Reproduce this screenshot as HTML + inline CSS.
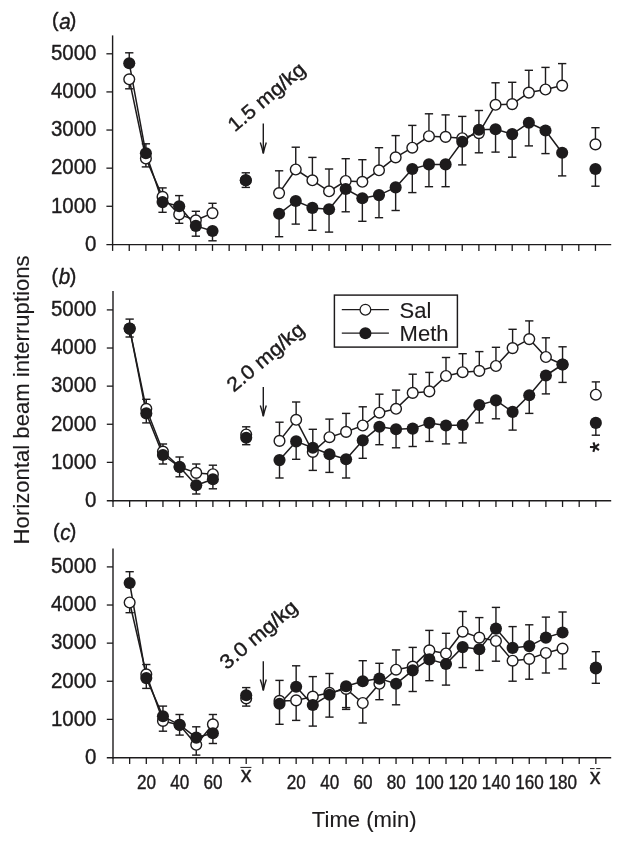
<!DOCTYPE html>
<html><head><meta charset="utf-8"><title>Figure</title>
<style>html,body{margin:0;padding:0;background:#fff}svg{display:block;will-change:transform;opacity:0.999}text{font-family:"Liberation Sans",sans-serif;fill:#1d1b1c;stroke:#1d1b1c;stroke-width:0.4px;stroke-linejoin:round}text.t{stroke-width:0.12px}</style>
</head><body>
<svg width="624" height="841" viewBox="0 0 624 841">
<rect width="624" height="841" fill="#fff"/>
<g>
<line x1="112.60" y1="35.40" x2="112.60" y2="245.30" stroke="#1d1b1c" stroke-width="1.40" />
<line x1="106.40" y1="244.65" x2="611.20" y2="244.65" stroke="#1d1b1c" stroke-width="1.40" />
<line x1="106.40" y1="206.28" x2="112.60" y2="206.28" stroke="#1d1b1c" stroke-width="1.30" />
<text transform="translate(96.4,212.58) scale(0.93,1)" font-size="22" text-anchor="end">1000</text>
<line x1="106.40" y1="168.16" x2="112.60" y2="168.16" stroke="#1d1b1c" stroke-width="1.30" />
<text transform="translate(96.4,174.46) scale(0.93,1)" font-size="22" text-anchor="end">2000</text>
<line x1="106.40" y1="130.04" x2="112.60" y2="130.04" stroke="#1d1b1c" stroke-width="1.30" />
<text transform="translate(96.4,136.34) scale(0.93,1)" font-size="22" text-anchor="end">3000</text>
<line x1="106.40" y1="91.92" x2="112.60" y2="91.92" stroke="#1d1b1c" stroke-width="1.30" />
<text transform="translate(96.4,98.22) scale(0.93,1)" font-size="22" text-anchor="end">4000</text>
<line x1="106.40" y1="53.80" x2="112.60" y2="53.80" stroke="#1d1b1c" stroke-width="1.30" />
<text transform="translate(96.4,60.10) scale(0.93,1)" font-size="22" text-anchor="end">5000</text>
<text transform="translate(96.4,250.70) scale(0.93,1)" font-size="22" text-anchor="end">0</text>
<line x1="112.60" y1="244.40" x2="112.60" y2="250.90" stroke="#1d1b1c" stroke-width="1.30" />
<line x1="129.25" y1="244.40" x2="129.25" y2="250.90" stroke="#1d1b1c" stroke-width="1.30" />
<line x1="145.90" y1="244.40" x2="145.90" y2="250.90" stroke="#1d1b1c" stroke-width="1.30" />
<line x1="162.55" y1="244.40" x2="162.55" y2="250.90" stroke="#1d1b1c" stroke-width="1.30" />
<line x1="179.20" y1="244.40" x2="179.20" y2="250.90" stroke="#1d1b1c" stroke-width="1.30" />
<line x1="195.85" y1="244.40" x2="195.85" y2="250.90" stroke="#1d1b1c" stroke-width="1.30" />
<line x1="212.50" y1="244.40" x2="212.50" y2="250.90" stroke="#1d1b1c" stroke-width="1.30" />
<line x1="229.15" y1="244.40" x2="229.15" y2="250.90" stroke="#1d1b1c" stroke-width="1.30" />
<line x1="245.80" y1="244.40" x2="245.80" y2="250.90" stroke="#1d1b1c" stroke-width="1.30" />
<line x1="262.45" y1="244.40" x2="262.45" y2="250.90" stroke="#1d1b1c" stroke-width="1.30" />
<line x1="279.10" y1="244.40" x2="279.10" y2="250.90" stroke="#1d1b1c" stroke-width="1.30" />
<line x1="295.75" y1="244.40" x2="295.75" y2="250.90" stroke="#1d1b1c" stroke-width="1.30" />
<line x1="312.40" y1="244.40" x2="312.40" y2="250.90" stroke="#1d1b1c" stroke-width="1.30" />
<line x1="329.05" y1="244.40" x2="329.05" y2="250.90" stroke="#1d1b1c" stroke-width="1.30" />
<line x1="345.70" y1="244.40" x2="345.70" y2="250.90" stroke="#1d1b1c" stroke-width="1.30" />
<line x1="362.35" y1="244.40" x2="362.35" y2="250.90" stroke="#1d1b1c" stroke-width="1.30" />
<line x1="379.00" y1="244.40" x2="379.00" y2="250.90" stroke="#1d1b1c" stroke-width="1.30" />
<line x1="395.65" y1="244.40" x2="395.65" y2="250.90" stroke="#1d1b1c" stroke-width="1.30" />
<line x1="412.30" y1="244.40" x2="412.30" y2="250.90" stroke="#1d1b1c" stroke-width="1.30" />
<line x1="428.95" y1="244.40" x2="428.95" y2="250.90" stroke="#1d1b1c" stroke-width="1.30" />
<line x1="445.60" y1="244.40" x2="445.60" y2="250.90" stroke="#1d1b1c" stroke-width="1.30" />
<line x1="462.25" y1="244.40" x2="462.25" y2="250.90" stroke="#1d1b1c" stroke-width="1.30" />
<line x1="478.90" y1="244.40" x2="478.90" y2="250.90" stroke="#1d1b1c" stroke-width="1.30" />
<line x1="495.55" y1="244.40" x2="495.55" y2="250.90" stroke="#1d1b1c" stroke-width="1.30" />
<line x1="512.20" y1="244.40" x2="512.20" y2="250.90" stroke="#1d1b1c" stroke-width="1.30" />
<line x1="528.85" y1="244.40" x2="528.85" y2="250.90" stroke="#1d1b1c" stroke-width="1.30" />
<line x1="545.50" y1="244.40" x2="545.50" y2="250.90" stroke="#1d1b1c" stroke-width="1.30" />
<line x1="562.15" y1="244.40" x2="562.15" y2="250.90" stroke="#1d1b1c" stroke-width="1.30" />
<line x1="578.80" y1="244.40" x2="578.80" y2="250.90" stroke="#1d1b1c" stroke-width="1.30" />
<line x1="595.45" y1="244.40" x2="595.45" y2="250.90" stroke="#1d1b1c" stroke-width="1.30" />
<text x="52.00" y="26.70" font-size="19.7">(</text>
<text transform="translate(64.90,28.50) scale(0.94,1)" font-size="22" font-style="italic" text-anchor="middle">a</text>
<text x="69.70" y="26.70" font-size="19.7">)</text>
<polyline points="129.25,63.20 145.90,153.30 162.55,202.10 179.20,206.20 195.85,225.90 212.50,231.00" fill="none" stroke="#1d1b1c" stroke-width="1.50" stroke-linejoin="round"/>
<polyline points="279.10,213.80 295.75,201.00 312.40,207.90 329.05,209.20 345.70,189.00 362.35,198.20 379.00,195.10 395.65,187.40 412.30,169.00 428.95,164.40 445.60,164.40 462.25,141.80 478.90,129.70 495.55,129.20 512.20,134.10 528.85,122.80 545.50,130.50 562.15,152.80" fill="none" stroke="#1d1b1c" stroke-width="1.50" stroke-linejoin="round"/>
<polyline points="129.25,79.30 145.90,158.50 162.55,196.90 179.20,214.40 195.85,220.30 212.50,213.10" fill="none" stroke="#1d1b1c" stroke-width="1.50" stroke-linejoin="round"/>
<polyline points="279.10,193.10 295.75,169.50 312.40,180.30 329.05,191.30 345.70,181.00 362.35,181.80 379.00,170.30 395.65,157.40 412.30,147.70 428.95,136.20 445.60,136.90 462.25,138.20 478.90,133.10 495.55,104.80 512.20,104.10 528.85,92.60 545.50,89.50 562.15,85.60" fill="none" stroke="#1d1b1c" stroke-width="1.50" stroke-linejoin="round"/>
<line x1="129.25" y1="79.30" x2="129.25" y2="88.80" stroke="#1d1b1c" stroke-width="1.42" />
<line x1="125.10" y1="88.80" x2="133.40" y2="88.80" stroke="#1d1b1c" stroke-width="1.42" />
<line x1="145.90" y1="158.50" x2="145.90" y2="166.90" stroke="#1d1b1c" stroke-width="1.42" />
<line x1="141.75" y1="166.90" x2="150.05" y2="166.90" stroke="#1d1b1c" stroke-width="1.42" />
<line x1="162.55" y1="196.90" x2="162.55" y2="187.90" stroke="#1d1b1c" stroke-width="1.42" />
<line x1="158.40" y1="187.90" x2="166.70" y2="187.90" stroke="#1d1b1c" stroke-width="1.42" />
<line x1="179.20" y1="214.40" x2="179.20" y2="223.30" stroke="#1d1b1c" stroke-width="1.42" />
<line x1="175.05" y1="223.30" x2="183.35" y2="223.30" stroke="#1d1b1c" stroke-width="1.42" />
<line x1="195.85" y1="220.30" x2="195.85" y2="211.30" stroke="#1d1b1c" stroke-width="1.42" />
<line x1="191.70" y1="211.30" x2="200.00" y2="211.30" stroke="#1d1b1c" stroke-width="1.42" />
<line x1="212.50" y1="213.10" x2="212.50" y2="203.30" stroke="#1d1b1c" stroke-width="1.42" />
<line x1="208.35" y1="203.30" x2="216.65" y2="203.30" stroke="#1d1b1c" stroke-width="1.42" />
<line x1="245.80" y1="180.30" x2="245.80" y2="172.80" stroke="#1d1b1c" stroke-width="1.42" />
<line x1="241.65" y1="172.80" x2="249.95" y2="172.80" stroke="#1d1b1c" stroke-width="1.42" />
<line x1="279.10" y1="193.10" x2="279.10" y2="170.80" stroke="#1d1b1c" stroke-width="1.42" />
<line x1="274.95" y1="170.80" x2="283.25" y2="170.80" stroke="#1d1b1c" stroke-width="1.42" />
<line x1="295.75" y1="169.50" x2="295.75" y2="147.20" stroke="#1d1b1c" stroke-width="1.42" />
<line x1="291.60" y1="147.20" x2="299.90" y2="147.20" stroke="#1d1b1c" stroke-width="1.42" />
<line x1="312.40" y1="180.30" x2="312.40" y2="157.40" stroke="#1d1b1c" stroke-width="1.42" />
<line x1="308.25" y1="157.40" x2="316.55" y2="157.40" stroke="#1d1b1c" stroke-width="1.42" />
<line x1="329.05" y1="191.30" x2="329.05" y2="169.00" stroke="#1d1b1c" stroke-width="1.42" />
<line x1="324.90" y1="169.00" x2="333.20" y2="169.00" stroke="#1d1b1c" stroke-width="1.42" />
<line x1="345.70" y1="181.00" x2="345.70" y2="158.70" stroke="#1d1b1c" stroke-width="1.42" />
<line x1="341.55" y1="158.70" x2="349.85" y2="158.70" stroke="#1d1b1c" stroke-width="1.42" />
<line x1="362.35" y1="181.80" x2="362.35" y2="159.70" stroke="#1d1b1c" stroke-width="1.42" />
<line x1="358.20" y1="159.70" x2="366.50" y2="159.70" stroke="#1d1b1c" stroke-width="1.42" />
<line x1="379.00" y1="170.30" x2="379.00" y2="147.70" stroke="#1d1b1c" stroke-width="1.42" />
<line x1="374.85" y1="147.70" x2="383.15" y2="147.70" stroke="#1d1b1c" stroke-width="1.42" />
<line x1="395.65" y1="157.40" x2="395.65" y2="135.60" stroke="#1d1b1c" stroke-width="1.42" />
<line x1="391.50" y1="135.60" x2="399.80" y2="135.60" stroke="#1d1b1c" stroke-width="1.42" />
<line x1="412.30" y1="147.70" x2="412.30" y2="125.40" stroke="#1d1b1c" stroke-width="1.42" />
<line x1="408.15" y1="125.40" x2="416.45" y2="125.40" stroke="#1d1b1c" stroke-width="1.42" />
<line x1="428.95" y1="136.20" x2="428.95" y2="113.80" stroke="#1d1b1c" stroke-width="1.42" />
<line x1="424.80" y1="113.80" x2="433.10" y2="113.80" stroke="#1d1b1c" stroke-width="1.42" />
<line x1="445.60" y1="136.90" x2="445.60" y2="114.90" stroke="#1d1b1c" stroke-width="1.42" />
<line x1="441.45" y1="114.90" x2="449.75" y2="114.90" stroke="#1d1b1c" stroke-width="1.42" />
<line x1="462.25" y1="138.20" x2="462.25" y2="116.40" stroke="#1d1b1c" stroke-width="1.42" />
<line x1="458.10" y1="116.40" x2="466.40" y2="116.40" stroke="#1d1b1c" stroke-width="1.42" />
<line x1="478.90" y1="133.10" x2="478.90" y2="110.50" stroke="#1d1b1c" stroke-width="1.42" />
<line x1="474.75" y1="110.50" x2="483.05" y2="110.50" stroke="#1d1b1c" stroke-width="1.42" />
<line x1="495.55" y1="104.80" x2="495.55" y2="82.80" stroke="#1d1b1c" stroke-width="1.42" />
<line x1="491.40" y1="82.80" x2="499.70" y2="82.80" stroke="#1d1b1c" stroke-width="1.42" />
<line x1="512.20" y1="104.10" x2="512.20" y2="82.30" stroke="#1d1b1c" stroke-width="1.42" />
<line x1="508.05" y1="82.30" x2="516.35" y2="82.30" stroke="#1d1b1c" stroke-width="1.42" />
<line x1="528.85" y1="92.60" x2="528.85" y2="70.30" stroke="#1d1b1c" stroke-width="1.42" />
<line x1="524.70" y1="70.30" x2="533.00" y2="70.30" stroke="#1d1b1c" stroke-width="1.42" />
<line x1="545.50" y1="89.50" x2="545.50" y2="67.40" stroke="#1d1b1c" stroke-width="1.42" />
<line x1="541.35" y1="67.40" x2="549.65" y2="67.40" stroke="#1d1b1c" stroke-width="1.42" />
<line x1="562.15" y1="85.60" x2="562.15" y2="63.60" stroke="#1d1b1c" stroke-width="1.42" />
<line x1="558.00" y1="63.60" x2="566.30" y2="63.60" stroke="#1d1b1c" stroke-width="1.42" />
<line x1="595.45" y1="144.40" x2="595.45" y2="127.70" stroke="#1d1b1c" stroke-width="1.42" />
<line x1="591.30" y1="127.70" x2="599.60" y2="127.70" stroke="#1d1b1c" stroke-width="1.42" />
<line x1="129.25" y1="63.20" x2="129.25" y2="52.80" stroke="#1d1b1c" stroke-width="1.42" />
<line x1="125.10" y1="52.80" x2="133.40" y2="52.80" stroke="#1d1b1c" stroke-width="1.42" />
<line x1="145.90" y1="153.30" x2="145.90" y2="143.80" stroke="#1d1b1c" stroke-width="1.42" />
<line x1="141.75" y1="143.80" x2="150.05" y2="143.80" stroke="#1d1b1c" stroke-width="1.42" />
<line x1="162.55" y1="202.10" x2="162.55" y2="212.30" stroke="#1d1b1c" stroke-width="1.42" />
<line x1="158.40" y1="212.30" x2="166.70" y2="212.30" stroke="#1d1b1c" stroke-width="1.42" />
<line x1="179.20" y1="206.20" x2="179.20" y2="195.60" stroke="#1d1b1c" stroke-width="1.42" />
<line x1="175.05" y1="195.60" x2="183.35" y2="195.60" stroke="#1d1b1c" stroke-width="1.42" />
<line x1="195.85" y1="225.90" x2="195.85" y2="236.20" stroke="#1d1b1c" stroke-width="1.42" />
<line x1="191.70" y1="236.20" x2="200.00" y2="236.20" stroke="#1d1b1c" stroke-width="1.42" />
<line x1="212.50" y1="231.00" x2="212.50" y2="240.80" stroke="#1d1b1c" stroke-width="1.42" />
<line x1="208.35" y1="240.80" x2="216.65" y2="240.80" stroke="#1d1b1c" stroke-width="1.42" />
<line x1="245.80" y1="180.30" x2="245.80" y2="187.40" stroke="#1d1b1c" stroke-width="1.42" />
<line x1="241.65" y1="187.40" x2="249.95" y2="187.40" stroke="#1d1b1c" stroke-width="1.42" />
<line x1="279.10" y1="213.80" x2="279.10" y2="236.70" stroke="#1d1b1c" stroke-width="1.42" />
<line x1="274.95" y1="236.70" x2="283.25" y2="236.70" stroke="#1d1b1c" stroke-width="1.42" />
<line x1="295.75" y1="201.00" x2="295.75" y2="224.10" stroke="#1d1b1c" stroke-width="1.42" />
<line x1="291.60" y1="224.10" x2="299.90" y2="224.10" stroke="#1d1b1c" stroke-width="1.42" />
<line x1="312.40" y1="207.90" x2="312.40" y2="230.30" stroke="#1d1b1c" stroke-width="1.42" />
<line x1="308.25" y1="230.30" x2="316.55" y2="230.30" stroke="#1d1b1c" stroke-width="1.42" />
<line x1="329.05" y1="209.20" x2="329.05" y2="232.10" stroke="#1d1b1c" stroke-width="1.42" />
<line x1="324.90" y1="232.10" x2="333.20" y2="232.10" stroke="#1d1b1c" stroke-width="1.42" />
<line x1="345.70" y1="189.00" x2="345.70" y2="211.80" stroke="#1d1b1c" stroke-width="1.42" />
<line x1="341.55" y1="211.80" x2="349.85" y2="211.80" stroke="#1d1b1c" stroke-width="1.42" />
<line x1="362.35" y1="198.20" x2="362.35" y2="221.30" stroke="#1d1b1c" stroke-width="1.42" />
<line x1="358.20" y1="221.30" x2="366.50" y2="221.30" stroke="#1d1b1c" stroke-width="1.42" />
<line x1="379.00" y1="195.10" x2="379.00" y2="217.70" stroke="#1d1b1c" stroke-width="1.42" />
<line x1="374.85" y1="217.70" x2="383.15" y2="217.70" stroke="#1d1b1c" stroke-width="1.42" />
<line x1="395.65" y1="187.40" x2="395.65" y2="210.50" stroke="#1d1b1c" stroke-width="1.42" />
<line x1="391.50" y1="210.50" x2="399.80" y2="210.50" stroke="#1d1b1c" stroke-width="1.42" />
<line x1="412.30" y1="169.00" x2="412.30" y2="192.60" stroke="#1d1b1c" stroke-width="1.42" />
<line x1="408.15" y1="192.60" x2="416.45" y2="192.60" stroke="#1d1b1c" stroke-width="1.42" />
<line x1="428.95" y1="164.40" x2="428.95" y2="186.70" stroke="#1d1b1c" stroke-width="1.42" />
<line x1="424.80" y1="186.70" x2="433.10" y2="186.70" stroke="#1d1b1c" stroke-width="1.42" />
<line x1="445.60" y1="164.40" x2="445.60" y2="186.70" stroke="#1d1b1c" stroke-width="1.42" />
<line x1="441.45" y1="186.70" x2="449.75" y2="186.70" stroke="#1d1b1c" stroke-width="1.42" />
<line x1="462.25" y1="141.80" x2="462.25" y2="164.90" stroke="#1d1b1c" stroke-width="1.42" />
<line x1="458.10" y1="164.90" x2="466.40" y2="164.90" stroke="#1d1b1c" stroke-width="1.42" />
<line x1="478.90" y1="129.70" x2="478.90" y2="152.80" stroke="#1d1b1c" stroke-width="1.42" />
<line x1="474.75" y1="152.80" x2="483.05" y2="152.80" stroke="#1d1b1c" stroke-width="1.42" />
<line x1="495.55" y1="129.20" x2="495.55" y2="152.10" stroke="#1d1b1c" stroke-width="1.42" />
<line x1="491.40" y1="152.10" x2="499.70" y2="152.10" stroke="#1d1b1c" stroke-width="1.42" />
<line x1="512.20" y1="134.10" x2="512.20" y2="157.20" stroke="#1d1b1c" stroke-width="1.42" />
<line x1="508.05" y1="157.20" x2="516.35" y2="157.20" stroke="#1d1b1c" stroke-width="1.42" />
<line x1="528.85" y1="122.80" x2="528.85" y2="145.90" stroke="#1d1b1c" stroke-width="1.42" />
<line x1="524.70" y1="145.90" x2="533.00" y2="145.90" stroke="#1d1b1c" stroke-width="1.42" />
<line x1="545.50" y1="130.50" x2="545.50" y2="153.60" stroke="#1d1b1c" stroke-width="1.42" />
<line x1="541.35" y1="153.60" x2="549.65" y2="153.60" stroke="#1d1b1c" stroke-width="1.42" />
<line x1="562.15" y1="152.80" x2="562.15" y2="175.90" stroke="#1d1b1c" stroke-width="1.42" />
<line x1="558.00" y1="175.90" x2="566.30" y2="175.90" stroke="#1d1b1c" stroke-width="1.42" />
<line x1="595.45" y1="169.00" x2="595.45" y2="186.20" stroke="#1d1b1c" stroke-width="1.42" />
<line x1="591.30" y1="186.20" x2="599.60" y2="186.20" stroke="#1d1b1c" stroke-width="1.42" />
<circle cx="129.25" cy="79.30" r="5.35" fill="#fff" stroke="#1d1b1c" stroke-width="1.4"/>
<circle cx="145.90" cy="158.50" r="5.35" fill="#fff" stroke="#1d1b1c" stroke-width="1.4"/>
<circle cx="162.55" cy="196.90" r="5.35" fill="#fff" stroke="#1d1b1c" stroke-width="1.4"/>
<circle cx="179.20" cy="214.40" r="5.35" fill="#fff" stroke="#1d1b1c" stroke-width="1.4"/>
<circle cx="195.85" cy="220.30" r="5.35" fill="#fff" stroke="#1d1b1c" stroke-width="1.4"/>
<circle cx="212.50" cy="213.10" r="5.35" fill="#fff" stroke="#1d1b1c" stroke-width="1.4"/>
<circle cx="245.80" cy="180.30" r="5.35" fill="#fff" stroke="#1d1b1c" stroke-width="1.4"/>
<circle cx="279.10" cy="193.10" r="5.35" fill="#fff" stroke="#1d1b1c" stroke-width="1.4"/>
<circle cx="295.75" cy="169.50" r="5.35" fill="#fff" stroke="#1d1b1c" stroke-width="1.4"/>
<circle cx="312.40" cy="180.30" r="5.35" fill="#fff" stroke="#1d1b1c" stroke-width="1.4"/>
<circle cx="329.05" cy="191.30" r="5.35" fill="#fff" stroke="#1d1b1c" stroke-width="1.4"/>
<circle cx="345.70" cy="181.00" r="5.35" fill="#fff" stroke="#1d1b1c" stroke-width="1.4"/>
<circle cx="362.35" cy="181.80" r="5.35" fill="#fff" stroke="#1d1b1c" stroke-width="1.4"/>
<circle cx="379.00" cy="170.30" r="5.35" fill="#fff" stroke="#1d1b1c" stroke-width="1.4"/>
<circle cx="395.65" cy="157.40" r="5.35" fill="#fff" stroke="#1d1b1c" stroke-width="1.4"/>
<circle cx="412.30" cy="147.70" r="5.35" fill="#fff" stroke="#1d1b1c" stroke-width="1.4"/>
<circle cx="428.95" cy="136.20" r="5.35" fill="#fff" stroke="#1d1b1c" stroke-width="1.4"/>
<circle cx="445.60" cy="136.90" r="5.35" fill="#fff" stroke="#1d1b1c" stroke-width="1.4"/>
<circle cx="462.25" cy="138.20" r="5.35" fill="#fff" stroke="#1d1b1c" stroke-width="1.4"/>
<circle cx="478.90" cy="133.10" r="5.35" fill="#fff" stroke="#1d1b1c" stroke-width="1.4"/>
<circle cx="495.55" cy="104.80" r="5.35" fill="#fff" stroke="#1d1b1c" stroke-width="1.4"/>
<circle cx="512.20" cy="104.10" r="5.35" fill="#fff" stroke="#1d1b1c" stroke-width="1.4"/>
<circle cx="528.85" cy="92.60" r="5.35" fill="#fff" stroke="#1d1b1c" stroke-width="1.4"/>
<circle cx="545.50" cy="89.50" r="5.35" fill="#fff" stroke="#1d1b1c" stroke-width="1.4"/>
<circle cx="562.15" cy="85.60" r="5.35" fill="#fff" stroke="#1d1b1c" stroke-width="1.4"/>
<circle cx="595.45" cy="144.40" r="5.35" fill="#fff" stroke="#1d1b1c" stroke-width="1.4"/>
<circle cx="129.25" cy="63.20" r="6.05" fill="#1d1b1c"/>
<circle cx="145.90" cy="153.30" r="6.05" fill="#1d1b1c"/>
<circle cx="162.55" cy="202.10" r="6.05" fill="#1d1b1c"/>
<circle cx="179.20" cy="206.20" r="6.05" fill="#1d1b1c"/>
<circle cx="195.85" cy="225.90" r="6.05" fill="#1d1b1c"/>
<circle cx="212.50" cy="231.00" r="6.05" fill="#1d1b1c"/>
<circle cx="245.80" cy="180.30" r="6.05" fill="#1d1b1c"/>
<circle cx="279.10" cy="213.80" r="6.05" fill="#1d1b1c"/>
<circle cx="295.75" cy="201.00" r="6.05" fill="#1d1b1c"/>
<circle cx="312.40" cy="207.90" r="6.05" fill="#1d1b1c"/>
<circle cx="329.05" cy="209.20" r="6.05" fill="#1d1b1c"/>
<circle cx="345.70" cy="189.00" r="6.05" fill="#1d1b1c"/>
<circle cx="362.35" cy="198.20" r="6.05" fill="#1d1b1c"/>
<circle cx="379.00" cy="195.10" r="6.05" fill="#1d1b1c"/>
<circle cx="395.65" cy="187.40" r="6.05" fill="#1d1b1c"/>
<circle cx="412.30" cy="169.00" r="6.05" fill="#1d1b1c"/>
<circle cx="428.95" cy="164.40" r="6.05" fill="#1d1b1c"/>
<circle cx="445.60" cy="164.40" r="6.05" fill="#1d1b1c"/>
<circle cx="462.25" cy="141.80" r="6.05" fill="#1d1b1c"/>
<circle cx="478.90" cy="129.70" r="6.05" fill="#1d1b1c"/>
<circle cx="495.55" cy="129.20" r="6.05" fill="#1d1b1c"/>
<circle cx="512.20" cy="134.10" r="6.05" fill="#1d1b1c"/>
<circle cx="528.85" cy="122.80" r="6.05" fill="#1d1b1c"/>
<circle cx="545.50" cy="130.50" r="6.05" fill="#1d1b1c"/>
<circle cx="562.15" cy="152.80" r="6.05" fill="#1d1b1c"/>
<circle cx="595.45" cy="169.00" r="6.05" fill="#1d1b1c"/>
<line x1="263.30" y1="123.40" x2="263.30" y2="153.10" stroke="#1d1b1c" stroke-width="1.40" />
<path d="M260.30,142.60 Q262.40,148.60 263.30,153.60 Q264.20,148.60 266.30,142.60" fill="none" stroke="#1d1b1c" stroke-width="1.4" stroke-linejoin="miter"/>
<text transform="translate(234.80,132.60) rotate(-40.2)" font-size="20" textLength="94.5" lengthAdjust="spacingAndGlyphs">1.5 mg/kg</text>
</g>
<g>
<line x1="113.00" y1="291.00" x2="113.00" y2="501.40" stroke="#1d1b1c" stroke-width="1.40" />
<line x1="106.80" y1="500.75" x2="611.20" y2="500.75" stroke="#1d1b1c" stroke-width="1.40" />
<line x1="106.80" y1="462.38" x2="113.00" y2="462.38" stroke="#1d1b1c" stroke-width="1.30" />
<text transform="translate(96.4,468.68) scale(0.93,1)" font-size="22" text-anchor="end">1000</text>
<line x1="106.80" y1="424.26" x2="113.00" y2="424.26" stroke="#1d1b1c" stroke-width="1.30" />
<text transform="translate(96.4,430.56) scale(0.93,1)" font-size="22" text-anchor="end">2000</text>
<line x1="106.80" y1="386.14" x2="113.00" y2="386.14" stroke="#1d1b1c" stroke-width="1.30" />
<text transform="translate(96.4,392.44) scale(0.93,1)" font-size="22" text-anchor="end">3000</text>
<line x1="106.80" y1="348.02" x2="113.00" y2="348.02" stroke="#1d1b1c" stroke-width="1.30" />
<text transform="translate(96.4,354.32) scale(0.93,1)" font-size="22" text-anchor="end">4000</text>
<line x1="106.80" y1="309.90" x2="113.00" y2="309.90" stroke="#1d1b1c" stroke-width="1.30" />
<text transform="translate(96.4,316.20) scale(0.93,1)" font-size="22" text-anchor="end">5000</text>
<text transform="translate(96.4,506.80) scale(0.93,1)" font-size="22" text-anchor="end">0</text>
<line x1="113.00" y1="500.50" x2="113.00" y2="507.00" stroke="#1d1b1c" stroke-width="1.30" />
<line x1="129.65" y1="500.50" x2="129.65" y2="507.00" stroke="#1d1b1c" stroke-width="1.30" />
<line x1="146.30" y1="500.50" x2="146.30" y2="507.00" stroke="#1d1b1c" stroke-width="1.30" />
<line x1="162.95" y1="500.50" x2="162.95" y2="507.00" stroke="#1d1b1c" stroke-width="1.30" />
<line x1="179.60" y1="500.50" x2="179.60" y2="507.00" stroke="#1d1b1c" stroke-width="1.30" />
<line x1="196.25" y1="500.50" x2="196.25" y2="507.00" stroke="#1d1b1c" stroke-width="1.30" />
<line x1="212.90" y1="500.50" x2="212.90" y2="507.00" stroke="#1d1b1c" stroke-width="1.30" />
<line x1="229.55" y1="500.50" x2="229.55" y2="507.00" stroke="#1d1b1c" stroke-width="1.30" />
<line x1="246.20" y1="500.50" x2="246.20" y2="507.00" stroke="#1d1b1c" stroke-width="1.30" />
<line x1="262.85" y1="500.50" x2="262.85" y2="507.00" stroke="#1d1b1c" stroke-width="1.30" />
<line x1="279.50" y1="500.50" x2="279.50" y2="507.00" stroke="#1d1b1c" stroke-width="1.30" />
<line x1="296.15" y1="500.50" x2="296.15" y2="507.00" stroke="#1d1b1c" stroke-width="1.30" />
<line x1="312.80" y1="500.50" x2="312.80" y2="507.00" stroke="#1d1b1c" stroke-width="1.30" />
<line x1="329.45" y1="500.50" x2="329.45" y2="507.00" stroke="#1d1b1c" stroke-width="1.30" />
<line x1="346.10" y1="500.50" x2="346.10" y2="507.00" stroke="#1d1b1c" stroke-width="1.30" />
<line x1="362.75" y1="500.50" x2="362.75" y2="507.00" stroke="#1d1b1c" stroke-width="1.30" />
<line x1="379.40" y1="500.50" x2="379.40" y2="507.00" stroke="#1d1b1c" stroke-width="1.30" />
<line x1="396.05" y1="500.50" x2="396.05" y2="507.00" stroke="#1d1b1c" stroke-width="1.30" />
<line x1="412.70" y1="500.50" x2="412.70" y2="507.00" stroke="#1d1b1c" stroke-width="1.30" />
<line x1="429.35" y1="500.50" x2="429.35" y2="507.00" stroke="#1d1b1c" stroke-width="1.30" />
<line x1="446.00" y1="500.50" x2="446.00" y2="507.00" stroke="#1d1b1c" stroke-width="1.30" />
<line x1="462.65" y1="500.50" x2="462.65" y2="507.00" stroke="#1d1b1c" stroke-width="1.30" />
<line x1="479.30" y1="500.50" x2="479.30" y2="507.00" stroke="#1d1b1c" stroke-width="1.30" />
<line x1="495.95" y1="500.50" x2="495.95" y2="507.00" stroke="#1d1b1c" stroke-width="1.30" />
<line x1="512.60" y1="500.50" x2="512.60" y2="507.00" stroke="#1d1b1c" stroke-width="1.30" />
<line x1="529.25" y1="500.50" x2="529.25" y2="507.00" stroke="#1d1b1c" stroke-width="1.30" />
<line x1="545.90" y1="500.50" x2="545.90" y2="507.00" stroke="#1d1b1c" stroke-width="1.30" />
<line x1="562.55" y1="500.50" x2="562.55" y2="507.00" stroke="#1d1b1c" stroke-width="1.30" />
<line x1="579.20" y1="500.50" x2="579.20" y2="507.00" stroke="#1d1b1c" stroke-width="1.30" />
<line x1="595.85" y1="500.50" x2="595.85" y2="507.00" stroke="#1d1b1c" stroke-width="1.30" />
<text x="51.40" y="282.60" font-size="19.7">(</text>
<text transform="translate(64.60,284.40) scale(0.94,1)" font-size="22" font-style="italic" text-anchor="middle">b</text>
<text x="69.70" y="282.60" font-size="19.7">)</text>
<polyline points="129.65,328.60 146.30,413.40 162.95,455.00 179.60,467.00 196.25,485.20 212.90,479.30" fill="none" stroke="#1d1b1c" stroke-width="1.50" stroke-linejoin="round"/>
<polyline points="279.50,460.10 296.15,441.40 312.80,447.80 329.45,454.20 346.10,459.30 362.75,440.40 379.40,426.80 396.05,429.30 412.70,428.60 429.35,422.90 446.00,425.50 462.65,425.00 479.30,405.00 495.95,400.40 512.60,411.90 529.25,395.20 545.90,375.50 562.55,364.50" fill="none" stroke="#1d1b1c" stroke-width="1.50" stroke-linejoin="round"/>
<polyline points="129.65,328.60 146.30,408.80 162.95,451.60 179.60,467.00 196.25,472.90 212.90,474.20" fill="none" stroke="#1d1b1c" stroke-width="1.50" stroke-linejoin="round"/>
<polyline points="279.50,440.90 296.15,419.80 312.80,451.90 329.45,437.20 346.10,431.90 362.75,425.50 379.40,412.70 396.05,408.80 412.70,392.90 429.35,391.40 446.00,376.00 462.65,372.20 479.30,370.90 495.95,366.00 512.60,348.10 529.25,339.10 545.90,357.00 562.55,364.50" fill="none" stroke="#1d1b1c" stroke-width="1.50" stroke-linejoin="round"/>
<line x1="129.65" y1="328.60" x2="129.65" y2="319.10" stroke="#1d1b1c" stroke-width="1.42" />
<line x1="125.50" y1="319.10" x2="133.80" y2="319.10" stroke="#1d1b1c" stroke-width="1.42" />
<line x1="146.30" y1="408.80" x2="146.30" y2="399.30" stroke="#1d1b1c" stroke-width="1.42" />
<line x1="142.15" y1="399.30" x2="150.45" y2="399.30" stroke="#1d1b1c" stroke-width="1.42" />
<line x1="162.95" y1="451.60" x2="162.95" y2="444.00" stroke="#1d1b1c" stroke-width="1.42" />
<line x1="158.80" y1="444.00" x2="167.10" y2="444.00" stroke="#1d1b1c" stroke-width="1.42" />
<line x1="179.60" y1="467.00" x2="179.60" y2="457.00" stroke="#1d1b1c" stroke-width="1.42" />
<line x1="175.45" y1="457.00" x2="183.75" y2="457.00" stroke="#1d1b1c" stroke-width="1.42" />
<line x1="196.25" y1="472.90" x2="196.25" y2="464.00" stroke="#1d1b1c" stroke-width="1.42" />
<line x1="192.10" y1="464.00" x2="200.40" y2="464.00" stroke="#1d1b1c" stroke-width="1.42" />
<line x1="212.90" y1="474.20" x2="212.90" y2="465.20" stroke="#1d1b1c" stroke-width="1.42" />
<line x1="208.75" y1="465.20" x2="217.05" y2="465.20" stroke="#1d1b1c" stroke-width="1.42" />
<line x1="246.20" y1="434.50" x2="246.20" y2="426.80" stroke="#1d1b1c" stroke-width="1.42" />
<line x1="242.05" y1="426.80" x2="250.35" y2="426.80" stroke="#1d1b1c" stroke-width="1.42" />
<line x1="279.50" y1="440.90" x2="279.50" y2="422.20" stroke="#1d1b1c" stroke-width="1.42" />
<line x1="275.35" y1="422.20" x2="283.65" y2="422.20" stroke="#1d1b1c" stroke-width="1.42" />
<line x1="296.15" y1="419.80" x2="296.15" y2="402.00" stroke="#1d1b1c" stroke-width="1.42" />
<line x1="292.00" y1="402.00" x2="300.30" y2="402.00" stroke="#1d1b1c" stroke-width="1.42" />
<line x1="312.80" y1="451.90" x2="312.80" y2="470.40" stroke="#1d1b1c" stroke-width="1.42" />
<line x1="308.65" y1="470.40" x2="316.95" y2="470.40" stroke="#1d1b1c" stroke-width="1.42" />
<line x1="329.45" y1="437.20" x2="329.45" y2="419.10" stroke="#1d1b1c" stroke-width="1.42" />
<line x1="325.30" y1="419.10" x2="333.60" y2="419.10" stroke="#1d1b1c" stroke-width="1.42" />
<line x1="346.10" y1="431.90" x2="346.10" y2="413.40" stroke="#1d1b1c" stroke-width="1.42" />
<line x1="341.95" y1="413.40" x2="350.25" y2="413.40" stroke="#1d1b1c" stroke-width="1.42" />
<line x1="362.75" y1="425.50" x2="362.75" y2="406.80" stroke="#1d1b1c" stroke-width="1.42" />
<line x1="358.60" y1="406.80" x2="366.90" y2="406.80" stroke="#1d1b1c" stroke-width="1.42" />
<line x1="379.40" y1="412.70" x2="379.40" y2="394.20" stroke="#1d1b1c" stroke-width="1.42" />
<line x1="375.25" y1="394.20" x2="383.55" y2="394.20" stroke="#1d1b1c" stroke-width="1.42" />
<line x1="396.05" y1="408.80" x2="396.05" y2="390.10" stroke="#1d1b1c" stroke-width="1.42" />
<line x1="391.90" y1="390.10" x2="400.20" y2="390.10" stroke="#1d1b1c" stroke-width="1.42" />
<line x1="412.70" y1="392.90" x2="412.70" y2="374.20" stroke="#1d1b1c" stroke-width="1.42" />
<line x1="408.55" y1="374.20" x2="416.85" y2="374.20" stroke="#1d1b1c" stroke-width="1.42" />
<line x1="429.35" y1="391.40" x2="429.35" y2="372.40" stroke="#1d1b1c" stroke-width="1.42" />
<line x1="425.20" y1="372.40" x2="433.50" y2="372.40" stroke="#1d1b1c" stroke-width="1.42" />
<line x1="446.00" y1="376.00" x2="446.00" y2="357.50" stroke="#1d1b1c" stroke-width="1.42" />
<line x1="441.85" y1="357.50" x2="450.15" y2="357.50" stroke="#1d1b1c" stroke-width="1.42" />
<line x1="462.65" y1="372.20" x2="462.65" y2="353.70" stroke="#1d1b1c" stroke-width="1.42" />
<line x1="458.50" y1="353.70" x2="466.80" y2="353.70" stroke="#1d1b1c" stroke-width="1.42" />
<line x1="479.30" y1="370.90" x2="479.30" y2="351.60" stroke="#1d1b1c" stroke-width="1.42" />
<line x1="475.15" y1="351.60" x2="483.45" y2="351.60" stroke="#1d1b1c" stroke-width="1.42" />
<line x1="495.95" y1="366.00" x2="495.95" y2="347.30" stroke="#1d1b1c" stroke-width="1.42" />
<line x1="491.80" y1="347.30" x2="500.10" y2="347.30" stroke="#1d1b1c" stroke-width="1.42" />
<line x1="512.60" y1="348.10" x2="512.60" y2="329.30" stroke="#1d1b1c" stroke-width="1.42" />
<line x1="508.45" y1="329.30" x2="516.75" y2="329.30" stroke="#1d1b1c" stroke-width="1.42" />
<line x1="529.25" y1="339.10" x2="529.25" y2="320.90" stroke="#1d1b1c" stroke-width="1.42" />
<line x1="525.10" y1="320.90" x2="533.40" y2="320.90" stroke="#1d1b1c" stroke-width="1.42" />
<line x1="545.90" y1="357.00" x2="545.90" y2="337.80" stroke="#1d1b1c" stroke-width="1.42" />
<line x1="541.75" y1="337.80" x2="550.05" y2="337.80" stroke="#1d1b1c" stroke-width="1.42" />
<line x1="562.55" y1="364.50" x2="562.55" y2="346.80" stroke="#1d1b1c" stroke-width="1.42" />
<line x1="558.40" y1="346.80" x2="566.70" y2="346.80" stroke="#1d1b1c" stroke-width="1.42" />
<line x1="595.85" y1="394.70" x2="595.85" y2="381.90" stroke="#1d1b1c" stroke-width="1.42" />
<line x1="591.70" y1="381.90" x2="600.00" y2="381.90" stroke="#1d1b1c" stroke-width="1.42" />
<line x1="129.65" y1="328.60" x2="129.65" y2="337.00" stroke="#1d1b1c" stroke-width="1.42" />
<line x1="125.50" y1="337.00" x2="133.80" y2="337.00" stroke="#1d1b1c" stroke-width="1.42" />
<line x1="146.30" y1="413.40" x2="146.30" y2="422.90" stroke="#1d1b1c" stroke-width="1.42" />
<line x1="142.15" y1="422.90" x2="150.45" y2="422.90" stroke="#1d1b1c" stroke-width="1.42" />
<line x1="162.95" y1="455.00" x2="162.95" y2="464.00" stroke="#1d1b1c" stroke-width="1.42" />
<line x1="158.80" y1="464.00" x2="167.10" y2="464.00" stroke="#1d1b1c" stroke-width="1.42" />
<line x1="179.60" y1="467.00" x2="179.60" y2="476.80" stroke="#1d1b1c" stroke-width="1.42" />
<line x1="175.45" y1="476.80" x2="183.75" y2="476.80" stroke="#1d1b1c" stroke-width="1.42" />
<line x1="196.25" y1="485.20" x2="196.25" y2="494.00" stroke="#1d1b1c" stroke-width="1.42" />
<line x1="192.10" y1="494.00" x2="200.40" y2="494.00" stroke="#1d1b1c" stroke-width="1.42" />
<line x1="212.90" y1="479.30" x2="212.90" y2="488.80" stroke="#1d1b1c" stroke-width="1.42" />
<line x1="208.75" y1="488.80" x2="217.05" y2="488.80" stroke="#1d1b1c" stroke-width="1.42" />
<line x1="246.20" y1="437.80" x2="246.20" y2="444.70" stroke="#1d1b1c" stroke-width="1.42" />
<line x1="242.05" y1="444.70" x2="250.35" y2="444.70" stroke="#1d1b1c" stroke-width="1.42" />
<line x1="279.50" y1="460.10" x2="279.50" y2="478.00" stroke="#1d1b1c" stroke-width="1.42" />
<line x1="275.35" y1="478.00" x2="283.65" y2="478.00" stroke="#1d1b1c" stroke-width="1.42" />
<line x1="296.15" y1="441.40" x2="296.15" y2="459.30" stroke="#1d1b1c" stroke-width="1.42" />
<line x1="292.00" y1="459.30" x2="300.30" y2="459.30" stroke="#1d1b1c" stroke-width="1.42" />
<line x1="312.80" y1="447.80" x2="312.80" y2="429.30" stroke="#1d1b1c" stroke-width="1.42" />
<line x1="308.65" y1="429.30" x2="316.95" y2="429.30" stroke="#1d1b1c" stroke-width="1.42" />
<line x1="329.45" y1="454.20" x2="329.45" y2="472.40" stroke="#1d1b1c" stroke-width="1.42" />
<line x1="325.30" y1="472.40" x2="333.60" y2="472.40" stroke="#1d1b1c" stroke-width="1.42" />
<line x1="346.10" y1="459.30" x2="346.10" y2="478.00" stroke="#1d1b1c" stroke-width="1.42" />
<line x1="341.95" y1="478.00" x2="350.25" y2="478.00" stroke="#1d1b1c" stroke-width="1.42" />
<line x1="362.75" y1="440.40" x2="362.75" y2="458.30" stroke="#1d1b1c" stroke-width="1.42" />
<line x1="358.60" y1="458.30" x2="366.90" y2="458.30" stroke="#1d1b1c" stroke-width="1.42" />
<line x1="379.40" y1="426.80" x2="379.40" y2="444.70" stroke="#1d1b1c" stroke-width="1.42" />
<line x1="375.25" y1="444.70" x2="383.55" y2="444.70" stroke="#1d1b1c" stroke-width="1.42" />
<line x1="396.05" y1="429.30" x2="396.05" y2="447.80" stroke="#1d1b1c" stroke-width="1.42" />
<line x1="391.90" y1="447.80" x2="400.20" y2="447.80" stroke="#1d1b1c" stroke-width="1.42" />
<line x1="412.70" y1="428.60" x2="412.70" y2="446.50" stroke="#1d1b1c" stroke-width="1.42" />
<line x1="408.55" y1="446.50" x2="416.85" y2="446.50" stroke="#1d1b1c" stroke-width="1.42" />
<line x1="429.35" y1="422.90" x2="429.35" y2="441.40" stroke="#1d1b1c" stroke-width="1.42" />
<line x1="425.20" y1="441.40" x2="433.50" y2="441.40" stroke="#1d1b1c" stroke-width="1.42" />
<line x1="446.00" y1="425.50" x2="446.00" y2="443.90" stroke="#1d1b1c" stroke-width="1.42" />
<line x1="441.85" y1="443.90" x2="450.15" y2="443.90" stroke="#1d1b1c" stroke-width="1.42" />
<line x1="462.65" y1="425.00" x2="462.65" y2="442.90" stroke="#1d1b1c" stroke-width="1.42" />
<line x1="458.50" y1="442.90" x2="466.80" y2="442.90" stroke="#1d1b1c" stroke-width="1.42" />
<line x1="479.30" y1="405.00" x2="479.30" y2="422.90" stroke="#1d1b1c" stroke-width="1.42" />
<line x1="475.15" y1="422.90" x2="483.45" y2="422.90" stroke="#1d1b1c" stroke-width="1.42" />
<line x1="495.95" y1="400.40" x2="495.95" y2="418.80" stroke="#1d1b1c" stroke-width="1.42" />
<line x1="491.80" y1="418.80" x2="500.10" y2="418.80" stroke="#1d1b1c" stroke-width="1.42" />
<line x1="512.60" y1="411.90" x2="512.60" y2="430.10" stroke="#1d1b1c" stroke-width="1.42" />
<line x1="508.45" y1="430.10" x2="516.75" y2="430.10" stroke="#1d1b1c" stroke-width="1.42" />
<line x1="529.25" y1="395.20" x2="529.25" y2="413.40" stroke="#1d1b1c" stroke-width="1.42" />
<line x1="525.10" y1="413.40" x2="533.40" y2="413.40" stroke="#1d1b1c" stroke-width="1.42" />
<line x1="545.90" y1="375.50" x2="545.90" y2="393.90" stroke="#1d1b1c" stroke-width="1.42" />
<line x1="541.75" y1="393.90" x2="550.05" y2="393.90" stroke="#1d1b1c" stroke-width="1.42" />
<line x1="562.55" y1="364.50" x2="562.55" y2="382.40" stroke="#1d1b1c" stroke-width="1.42" />
<line x1="558.40" y1="382.40" x2="566.70" y2="382.40" stroke="#1d1b1c" stroke-width="1.42" />
<line x1="595.85" y1="422.90" x2="595.85" y2="435.20" stroke="#1d1b1c" stroke-width="1.42" />
<line x1="591.70" y1="435.20" x2="600.00" y2="435.20" stroke="#1d1b1c" stroke-width="1.42" />
<circle cx="129.65" cy="328.60" r="5.35" fill="#fff" stroke="#1d1b1c" stroke-width="1.4"/>
<circle cx="146.30" cy="408.80" r="5.35" fill="#fff" stroke="#1d1b1c" stroke-width="1.4"/>
<circle cx="162.95" cy="451.60" r="5.35" fill="#fff" stroke="#1d1b1c" stroke-width="1.4"/>
<circle cx="179.60" cy="467.00" r="5.35" fill="#fff" stroke="#1d1b1c" stroke-width="1.4"/>
<circle cx="196.25" cy="472.90" r="5.35" fill="#fff" stroke="#1d1b1c" stroke-width="1.4"/>
<circle cx="212.90" cy="474.20" r="5.35" fill="#fff" stroke="#1d1b1c" stroke-width="1.4"/>
<circle cx="246.20" cy="434.50" r="5.35" fill="#fff" stroke="#1d1b1c" stroke-width="1.4"/>
<circle cx="279.50" cy="440.90" r="5.35" fill="#fff" stroke="#1d1b1c" stroke-width="1.4"/>
<circle cx="296.15" cy="419.80" r="5.35" fill="#fff" stroke="#1d1b1c" stroke-width="1.4"/>
<circle cx="312.80" cy="451.90" r="5.35" fill="#fff" stroke="#1d1b1c" stroke-width="1.4"/>
<circle cx="329.45" cy="437.20" r="5.35" fill="#fff" stroke="#1d1b1c" stroke-width="1.4"/>
<circle cx="346.10" cy="431.90" r="5.35" fill="#fff" stroke="#1d1b1c" stroke-width="1.4"/>
<circle cx="362.75" cy="425.50" r="5.35" fill="#fff" stroke="#1d1b1c" stroke-width="1.4"/>
<circle cx="379.40" cy="412.70" r="5.35" fill="#fff" stroke="#1d1b1c" stroke-width="1.4"/>
<circle cx="396.05" cy="408.80" r="5.35" fill="#fff" stroke="#1d1b1c" stroke-width="1.4"/>
<circle cx="412.70" cy="392.90" r="5.35" fill="#fff" stroke="#1d1b1c" stroke-width="1.4"/>
<circle cx="429.35" cy="391.40" r="5.35" fill="#fff" stroke="#1d1b1c" stroke-width="1.4"/>
<circle cx="446.00" cy="376.00" r="5.35" fill="#fff" stroke="#1d1b1c" stroke-width="1.4"/>
<circle cx="462.65" cy="372.20" r="5.35" fill="#fff" stroke="#1d1b1c" stroke-width="1.4"/>
<circle cx="479.30" cy="370.90" r="5.35" fill="#fff" stroke="#1d1b1c" stroke-width="1.4"/>
<circle cx="495.95" cy="366.00" r="5.35" fill="#fff" stroke="#1d1b1c" stroke-width="1.4"/>
<circle cx="512.60" cy="348.10" r="5.35" fill="#fff" stroke="#1d1b1c" stroke-width="1.4"/>
<circle cx="529.25" cy="339.10" r="5.35" fill="#fff" stroke="#1d1b1c" stroke-width="1.4"/>
<circle cx="545.90" cy="357.00" r="5.35" fill="#fff" stroke="#1d1b1c" stroke-width="1.4"/>
<circle cx="562.55" cy="364.50" r="5.35" fill="#fff" stroke="#1d1b1c" stroke-width="1.4"/>
<circle cx="595.85" cy="394.70" r="5.35" fill="#fff" stroke="#1d1b1c" stroke-width="1.4"/>
<circle cx="129.65" cy="328.60" r="6.05" fill="#1d1b1c"/>
<circle cx="146.30" cy="413.40" r="6.05" fill="#1d1b1c"/>
<circle cx="162.95" cy="455.00" r="6.05" fill="#1d1b1c"/>
<circle cx="179.60" cy="467.00" r="6.05" fill="#1d1b1c"/>
<circle cx="196.25" cy="485.20" r="6.05" fill="#1d1b1c"/>
<circle cx="212.90" cy="479.30" r="6.05" fill="#1d1b1c"/>
<circle cx="246.20" cy="437.80" r="6.05" fill="#1d1b1c"/>
<circle cx="279.50" cy="460.10" r="6.05" fill="#1d1b1c"/>
<circle cx="296.15" cy="441.40" r="6.05" fill="#1d1b1c"/>
<circle cx="312.80" cy="447.80" r="6.05" fill="#1d1b1c"/>
<circle cx="329.45" cy="454.20" r="6.05" fill="#1d1b1c"/>
<circle cx="346.10" cy="459.30" r="6.05" fill="#1d1b1c"/>
<circle cx="362.75" cy="440.40" r="6.05" fill="#1d1b1c"/>
<circle cx="379.40" cy="426.80" r="6.05" fill="#1d1b1c"/>
<circle cx="396.05" cy="429.30" r="6.05" fill="#1d1b1c"/>
<circle cx="412.70" cy="428.60" r="6.05" fill="#1d1b1c"/>
<circle cx="429.35" cy="422.90" r="6.05" fill="#1d1b1c"/>
<circle cx="446.00" cy="425.50" r="6.05" fill="#1d1b1c"/>
<circle cx="462.65" cy="425.00" r="6.05" fill="#1d1b1c"/>
<circle cx="479.30" cy="405.00" r="6.05" fill="#1d1b1c"/>
<circle cx="495.95" cy="400.40" r="6.05" fill="#1d1b1c"/>
<circle cx="512.60" cy="411.90" r="6.05" fill="#1d1b1c"/>
<circle cx="529.25" cy="395.20" r="6.05" fill="#1d1b1c"/>
<circle cx="545.90" cy="375.50" r="6.05" fill="#1d1b1c"/>
<circle cx="562.55" cy="364.50" r="6.05" fill="#1d1b1c"/>
<circle cx="595.85" cy="422.90" r="6.05" fill="#1d1b1c"/>
<line x1="263.30" y1="387.00" x2="263.30" y2="415.90" stroke="#1d1b1c" stroke-width="1.40" />
<path d="M260.30,405.40 Q262.40,411.40 263.30,416.40 Q264.20,411.40 266.30,405.40" fill="none" stroke="#1d1b1c" stroke-width="1.4" stroke-linejoin="miter"/>
<text transform="translate(233.80,392.80) rotate(-40.2)" font-size="20" textLength="94.5" lengthAdjust="spacingAndGlyphs">2.0 mg/kg</text>
</g>
<g>
<line x1="113.00" y1="548.50" x2="113.00" y2="758.40" stroke="#1d1b1c" stroke-width="1.40" />
<line x1="106.80" y1="757.75" x2="611.20" y2="757.75" stroke="#1d1b1c" stroke-width="1.40" />
<line x1="106.80" y1="719.38" x2="113.00" y2="719.38" stroke="#1d1b1c" stroke-width="1.30" />
<text transform="translate(96.4,725.68) scale(0.93,1)" font-size="22" text-anchor="end">1000</text>
<line x1="106.80" y1="681.26" x2="113.00" y2="681.26" stroke="#1d1b1c" stroke-width="1.30" />
<text transform="translate(96.4,687.56) scale(0.93,1)" font-size="22" text-anchor="end">2000</text>
<line x1="106.80" y1="643.14" x2="113.00" y2="643.14" stroke="#1d1b1c" stroke-width="1.30" />
<text transform="translate(96.4,649.44) scale(0.93,1)" font-size="22" text-anchor="end">3000</text>
<line x1="106.80" y1="605.02" x2="113.00" y2="605.02" stroke="#1d1b1c" stroke-width="1.30" />
<text transform="translate(96.4,611.32) scale(0.93,1)" font-size="22" text-anchor="end">4000</text>
<line x1="106.80" y1="566.90" x2="113.00" y2="566.90" stroke="#1d1b1c" stroke-width="1.30" />
<text transform="translate(96.4,573.20) scale(0.93,1)" font-size="22" text-anchor="end">5000</text>
<text transform="translate(96.4,763.80) scale(0.93,1)" font-size="22" text-anchor="end">0</text>
<line x1="113.00" y1="757.50" x2="113.00" y2="764.00" stroke="#1d1b1c" stroke-width="1.30" />
<line x1="129.65" y1="757.50" x2="129.65" y2="764.00" stroke="#1d1b1c" stroke-width="1.30" />
<line x1="146.30" y1="757.50" x2="146.30" y2="764.00" stroke="#1d1b1c" stroke-width="1.30" />
<line x1="162.95" y1="757.50" x2="162.95" y2="764.00" stroke="#1d1b1c" stroke-width="1.30" />
<line x1="179.60" y1="757.50" x2="179.60" y2="764.00" stroke="#1d1b1c" stroke-width="1.30" />
<line x1="196.25" y1="757.50" x2="196.25" y2="764.00" stroke="#1d1b1c" stroke-width="1.30" />
<line x1="212.90" y1="757.50" x2="212.90" y2="764.00" stroke="#1d1b1c" stroke-width="1.30" />
<line x1="229.55" y1="757.50" x2="229.55" y2="764.00" stroke="#1d1b1c" stroke-width="1.30" />
<line x1="246.20" y1="757.50" x2="246.20" y2="764.00" stroke="#1d1b1c" stroke-width="1.30" />
<line x1="262.85" y1="757.50" x2="262.85" y2="764.00" stroke="#1d1b1c" stroke-width="1.30" />
<line x1="279.50" y1="757.50" x2="279.50" y2="764.00" stroke="#1d1b1c" stroke-width="1.30" />
<line x1="296.15" y1="757.50" x2="296.15" y2="764.00" stroke="#1d1b1c" stroke-width="1.30" />
<line x1="312.80" y1="757.50" x2="312.80" y2="764.00" stroke="#1d1b1c" stroke-width="1.30" />
<line x1="329.45" y1="757.50" x2="329.45" y2="764.00" stroke="#1d1b1c" stroke-width="1.30" />
<line x1="346.10" y1="757.50" x2="346.10" y2="764.00" stroke="#1d1b1c" stroke-width="1.30" />
<line x1="362.75" y1="757.50" x2="362.75" y2="764.00" stroke="#1d1b1c" stroke-width="1.30" />
<line x1="379.40" y1="757.50" x2="379.40" y2="764.00" stroke="#1d1b1c" stroke-width="1.30" />
<line x1="396.05" y1="757.50" x2="396.05" y2="764.00" stroke="#1d1b1c" stroke-width="1.30" />
<line x1="412.70" y1="757.50" x2="412.70" y2="764.00" stroke="#1d1b1c" stroke-width="1.30" />
<line x1="429.35" y1="757.50" x2="429.35" y2="764.00" stroke="#1d1b1c" stroke-width="1.30" />
<line x1="446.00" y1="757.50" x2="446.00" y2="764.00" stroke="#1d1b1c" stroke-width="1.30" />
<line x1="462.65" y1="757.50" x2="462.65" y2="764.00" stroke="#1d1b1c" stroke-width="1.30" />
<line x1="479.30" y1="757.50" x2="479.30" y2="764.00" stroke="#1d1b1c" stroke-width="1.30" />
<line x1="495.95" y1="757.50" x2="495.95" y2="764.00" stroke="#1d1b1c" stroke-width="1.30" />
<line x1="512.60" y1="757.50" x2="512.60" y2="764.00" stroke="#1d1b1c" stroke-width="1.30" />
<line x1="529.25" y1="757.50" x2="529.25" y2="764.00" stroke="#1d1b1c" stroke-width="1.30" />
<line x1="545.90" y1="757.50" x2="545.90" y2="764.00" stroke="#1d1b1c" stroke-width="1.30" />
<line x1="562.55" y1="757.50" x2="562.55" y2="764.00" stroke="#1d1b1c" stroke-width="1.30" />
<line x1="579.20" y1="757.50" x2="579.20" y2="764.00" stroke="#1d1b1c" stroke-width="1.30" />
<line x1="595.85" y1="757.50" x2="595.85" y2="764.00" stroke="#1d1b1c" stroke-width="1.30" />
<text x="52.90" y="537.80" font-size="19.7">(</text>
<text transform="translate(65.35,539.60) scale(0.94,1)" font-size="22" font-style="italic" text-anchor="middle">c</text>
<text x="69.70" y="537.80" font-size="19.7">)</text>
<polyline points="129.65,583.00 146.30,678.10 162.95,716.30 179.60,724.80 196.25,737.60 212.90,733.30" fill="none" stroke="#1d1b1c" stroke-width="1.50" stroke-linejoin="round"/>
<polyline points="279.50,703.80 296.15,686.80 312.80,705.00 329.45,694.80 346.10,686.30 362.75,681.20 379.40,678.60 396.05,683.80 412.70,670.40 429.35,659.40 446.00,664.00 462.65,647.10 479.30,649.20 495.95,628.60 512.60,647.90 529.25,646.10 545.90,637.60 562.55,632.50" fill="none" stroke="#1d1b1c" stroke-width="1.50" stroke-linejoin="round"/>
<polyline points="129.65,602.50 146.30,674.30 162.95,720.90 179.60,725.00 196.25,744.80 212.90,724.30" fill="none" stroke="#1d1b1c" stroke-width="1.50" stroke-linejoin="round"/>
<polyline points="279.50,700.90 296.15,700.40 312.80,696.60 329.45,692.80 346.10,688.90 362.75,703.00 379.40,683.80 396.05,669.70 412.70,666.60 429.35,650.40 446.00,653.50 462.65,631.70 479.30,637.60 495.95,641.00 512.60,660.70 529.25,658.90 545.90,653.00 562.55,648.60" fill="none" stroke="#1d1b1c" stroke-width="1.50" stroke-linejoin="round"/>
<line x1="129.65" y1="602.50" x2="129.65" y2="612.70" stroke="#1d1b1c" stroke-width="1.42" />
<line x1="125.50" y1="612.70" x2="133.80" y2="612.70" stroke="#1d1b1c" stroke-width="1.42" />
<line x1="146.30" y1="674.30" x2="146.30" y2="664.50" stroke="#1d1b1c" stroke-width="1.42" />
<line x1="142.15" y1="664.50" x2="150.45" y2="664.50" stroke="#1d1b1c" stroke-width="1.42" />
<line x1="162.95" y1="720.90" x2="162.95" y2="731.20" stroke="#1d1b1c" stroke-width="1.42" />
<line x1="158.80" y1="731.20" x2="167.10" y2="731.20" stroke="#1d1b1c" stroke-width="1.42" />
<line x1="179.60" y1="725.00" x2="179.60" y2="735.10" stroke="#1d1b1c" stroke-width="1.42" />
<line x1="175.45" y1="735.10" x2="183.75" y2="735.10" stroke="#1d1b1c" stroke-width="1.42" />
<line x1="196.25" y1="744.80" x2="196.25" y2="755.10" stroke="#1d1b1c" stroke-width="1.42" />
<line x1="192.10" y1="755.10" x2="200.40" y2="755.10" stroke="#1d1b1c" stroke-width="1.42" />
<line x1="212.90" y1="724.30" x2="212.90" y2="714.50" stroke="#1d1b1c" stroke-width="1.42" />
<line x1="208.75" y1="714.50" x2="217.05" y2="714.50" stroke="#1d1b1c" stroke-width="1.42" />
<line x1="246.20" y1="698.40" x2="246.20" y2="706.10" stroke="#1d1b1c" stroke-width="1.42" />
<line x1="242.05" y1="706.10" x2="250.35" y2="706.10" stroke="#1d1b1c" stroke-width="1.42" />
<line x1="279.50" y1="700.90" x2="279.50" y2="680.40" stroke="#1d1b1c" stroke-width="1.42" />
<line x1="275.35" y1="680.40" x2="283.65" y2="680.40" stroke="#1d1b1c" stroke-width="1.42" />
<line x1="296.15" y1="700.40" x2="296.15" y2="720.40" stroke="#1d1b1c" stroke-width="1.42" />
<line x1="292.00" y1="720.40" x2="300.30" y2="720.40" stroke="#1d1b1c" stroke-width="1.42" />
<line x1="312.80" y1="696.60" x2="312.80" y2="676.60" stroke="#1d1b1c" stroke-width="1.42" />
<line x1="308.65" y1="676.60" x2="316.95" y2="676.60" stroke="#1d1b1c" stroke-width="1.42" />
<line x1="329.45" y1="692.80" x2="329.45" y2="673.50" stroke="#1d1b1c" stroke-width="1.42" />
<line x1="325.30" y1="673.50" x2="333.60" y2="673.50" stroke="#1d1b1c" stroke-width="1.42" />
<line x1="346.10" y1="688.90" x2="346.10" y2="709.40" stroke="#1d1b1c" stroke-width="1.42" />
<line x1="341.95" y1="709.40" x2="350.25" y2="709.40" stroke="#1d1b1c" stroke-width="1.42" />
<line x1="362.75" y1="703.00" x2="362.75" y2="723.00" stroke="#1d1b1c" stroke-width="1.42" />
<line x1="358.60" y1="723.00" x2="366.90" y2="723.00" stroke="#1d1b1c" stroke-width="1.42" />
<line x1="379.40" y1="683.80" x2="379.40" y2="699.70" stroke="#1d1b1c" stroke-width="1.42" />
<line x1="375.25" y1="699.70" x2="383.55" y2="699.70" stroke="#1d1b1c" stroke-width="1.42" />
<line x1="396.05" y1="669.70" x2="396.05" y2="649.90" stroke="#1d1b1c" stroke-width="1.42" />
<line x1="391.90" y1="649.90" x2="400.20" y2="649.90" stroke="#1d1b1c" stroke-width="1.42" />
<line x1="412.70" y1="666.60" x2="412.70" y2="647.40" stroke="#1d1b1c" stroke-width="1.42" />
<line x1="408.55" y1="647.40" x2="416.85" y2="647.40" stroke="#1d1b1c" stroke-width="1.42" />
<line x1="429.35" y1="650.40" x2="429.35" y2="630.40" stroke="#1d1b1c" stroke-width="1.42" />
<line x1="425.20" y1="630.40" x2="433.50" y2="630.40" stroke="#1d1b1c" stroke-width="1.42" />
<line x1="446.00" y1="653.50" x2="446.00" y2="633.30" stroke="#1d1b1c" stroke-width="1.42" />
<line x1="441.85" y1="633.30" x2="450.15" y2="633.30" stroke="#1d1b1c" stroke-width="1.42" />
<line x1="462.65" y1="631.70" x2="462.65" y2="611.50" stroke="#1d1b1c" stroke-width="1.42" />
<line x1="458.50" y1="611.50" x2="466.80" y2="611.50" stroke="#1d1b1c" stroke-width="1.42" />
<line x1="479.30" y1="637.60" x2="479.30" y2="617.60" stroke="#1d1b1c" stroke-width="1.42" />
<line x1="475.15" y1="617.60" x2="483.45" y2="617.60" stroke="#1d1b1c" stroke-width="1.42" />
<line x1="495.95" y1="641.00" x2="495.95" y2="661.20" stroke="#1d1b1c" stroke-width="1.42" />
<line x1="491.80" y1="661.20" x2="500.10" y2="661.20" stroke="#1d1b1c" stroke-width="1.42" />
<line x1="512.60" y1="660.70" x2="512.60" y2="681.20" stroke="#1d1b1c" stroke-width="1.42" />
<line x1="508.45" y1="681.20" x2="516.75" y2="681.20" stroke="#1d1b1c" stroke-width="1.42" />
<line x1="529.25" y1="658.90" x2="529.25" y2="679.20" stroke="#1d1b1c" stroke-width="1.42" />
<line x1="525.10" y1="679.20" x2="533.40" y2="679.20" stroke="#1d1b1c" stroke-width="1.42" />
<line x1="545.90" y1="653.00" x2="545.90" y2="673.00" stroke="#1d1b1c" stroke-width="1.42" />
<line x1="541.75" y1="673.00" x2="550.05" y2="673.00" stroke="#1d1b1c" stroke-width="1.42" />
<line x1="562.55" y1="648.60" x2="562.55" y2="668.90" stroke="#1d1b1c" stroke-width="1.42" />
<line x1="558.40" y1="668.90" x2="566.70" y2="668.90" stroke="#1d1b1c" stroke-width="1.42" />
<line x1="595.85" y1="668.40" x2="595.85" y2="683.30" stroke="#1d1b1c" stroke-width="1.42" />
<line x1="591.70" y1="683.30" x2="600.00" y2="683.30" stroke="#1d1b1c" stroke-width="1.42" />
<line x1="129.65" y1="583.00" x2="129.65" y2="571.70" stroke="#1d1b1c" stroke-width="1.42" />
<line x1="125.50" y1="571.70" x2="133.80" y2="571.70" stroke="#1d1b1c" stroke-width="1.42" />
<line x1="146.30" y1="678.10" x2="146.30" y2="688.40" stroke="#1d1b1c" stroke-width="1.42" />
<line x1="142.15" y1="688.40" x2="150.45" y2="688.40" stroke="#1d1b1c" stroke-width="1.42" />
<line x1="162.95" y1="716.30" x2="162.95" y2="706.10" stroke="#1d1b1c" stroke-width="1.42" />
<line x1="158.80" y1="706.10" x2="167.10" y2="706.10" stroke="#1d1b1c" stroke-width="1.42" />
<line x1="179.60" y1="724.80" x2="179.60" y2="714.50" stroke="#1d1b1c" stroke-width="1.42" />
<line x1="175.45" y1="714.50" x2="183.75" y2="714.50" stroke="#1d1b1c" stroke-width="1.42" />
<line x1="196.25" y1="737.60" x2="196.25" y2="726.80" stroke="#1d1b1c" stroke-width="1.42" />
<line x1="192.10" y1="726.80" x2="200.40" y2="726.80" stroke="#1d1b1c" stroke-width="1.42" />
<line x1="212.90" y1="733.30" x2="212.90" y2="743.50" stroke="#1d1b1c" stroke-width="1.42" />
<line x1="208.75" y1="743.50" x2="217.05" y2="743.50" stroke="#1d1b1c" stroke-width="1.42" />
<line x1="246.20" y1="695.30" x2="246.20" y2="687.60" stroke="#1d1b1c" stroke-width="1.42" />
<line x1="242.05" y1="687.60" x2="250.35" y2="687.60" stroke="#1d1b1c" stroke-width="1.42" />
<line x1="279.50" y1="703.80" x2="279.50" y2="724.30" stroke="#1d1b1c" stroke-width="1.42" />
<line x1="275.35" y1="724.30" x2="283.65" y2="724.30" stroke="#1d1b1c" stroke-width="1.42" />
<line x1="296.15" y1="686.80" x2="296.15" y2="665.80" stroke="#1d1b1c" stroke-width="1.42" />
<line x1="292.00" y1="665.80" x2="300.30" y2="665.80" stroke="#1d1b1c" stroke-width="1.42" />
<line x1="312.80" y1="705.00" x2="312.80" y2="726.10" stroke="#1d1b1c" stroke-width="1.42" />
<line x1="308.65" y1="726.10" x2="316.95" y2="726.10" stroke="#1d1b1c" stroke-width="1.42" />
<line x1="329.45" y1="694.80" x2="329.45" y2="717.10" stroke="#1d1b1c" stroke-width="1.42" />
<line x1="325.30" y1="717.10" x2="333.60" y2="717.10" stroke="#1d1b1c" stroke-width="1.42" />
<line x1="346.10" y1="686.30" x2="346.10" y2="707.60" stroke="#1d1b1c" stroke-width="1.42" />
<line x1="341.95" y1="707.60" x2="350.25" y2="707.60" stroke="#1d1b1c" stroke-width="1.42" />
<line x1="362.75" y1="681.20" x2="362.75" y2="660.70" stroke="#1d1b1c" stroke-width="1.42" />
<line x1="358.60" y1="660.70" x2="366.90" y2="660.70" stroke="#1d1b1c" stroke-width="1.42" />
<line x1="379.40" y1="678.60" x2="379.40" y2="663.30" stroke="#1d1b1c" stroke-width="1.42" />
<line x1="375.25" y1="663.30" x2="383.55" y2="663.30" stroke="#1d1b1c" stroke-width="1.42" />
<line x1="396.05" y1="683.80" x2="396.05" y2="704.80" stroke="#1d1b1c" stroke-width="1.42" />
<line x1="391.90" y1="704.80" x2="400.20" y2="704.80" stroke="#1d1b1c" stroke-width="1.42" />
<line x1="412.70" y1="670.40" x2="412.70" y2="691.50" stroke="#1d1b1c" stroke-width="1.42" />
<line x1="408.55" y1="691.50" x2="416.85" y2="691.50" stroke="#1d1b1c" stroke-width="1.42" />
<line x1="429.35" y1="659.40" x2="429.35" y2="680.70" stroke="#1d1b1c" stroke-width="1.42" />
<line x1="425.20" y1="680.70" x2="433.50" y2="680.70" stroke="#1d1b1c" stroke-width="1.42" />
<line x1="446.00" y1="664.00" x2="446.00" y2="685.10" stroke="#1d1b1c" stroke-width="1.42" />
<line x1="441.85" y1="685.10" x2="450.15" y2="685.10" stroke="#1d1b1c" stroke-width="1.42" />
<line x1="462.65" y1="647.10" x2="462.65" y2="667.60" stroke="#1d1b1c" stroke-width="1.42" />
<line x1="458.50" y1="667.60" x2="466.80" y2="667.60" stroke="#1d1b1c" stroke-width="1.42" />
<line x1="479.30" y1="649.20" x2="479.30" y2="670.40" stroke="#1d1b1c" stroke-width="1.42" />
<line x1="475.15" y1="670.40" x2="483.45" y2="670.40" stroke="#1d1b1c" stroke-width="1.42" />
<line x1="495.95" y1="628.60" x2="495.95" y2="607.40" stroke="#1d1b1c" stroke-width="1.42" />
<line x1="491.80" y1="607.40" x2="500.10" y2="607.40" stroke="#1d1b1c" stroke-width="1.42" />
<line x1="512.60" y1="647.90" x2="512.60" y2="626.60" stroke="#1d1b1c" stroke-width="1.42" />
<line x1="508.45" y1="626.60" x2="516.75" y2="626.60" stroke="#1d1b1c" stroke-width="1.42" />
<line x1="529.25" y1="646.10" x2="529.25" y2="624.80" stroke="#1d1b1c" stroke-width="1.42" />
<line x1="525.10" y1="624.80" x2="533.40" y2="624.80" stroke="#1d1b1c" stroke-width="1.42" />
<line x1="545.90" y1="637.60" x2="545.90" y2="617.10" stroke="#1d1b1c" stroke-width="1.42" />
<line x1="541.75" y1="617.10" x2="550.05" y2="617.10" stroke="#1d1b1c" stroke-width="1.42" />
<line x1="562.55" y1="632.50" x2="562.55" y2="612.00" stroke="#1d1b1c" stroke-width="1.42" />
<line x1="558.40" y1="612.00" x2="566.70" y2="612.00" stroke="#1d1b1c" stroke-width="1.42" />
<line x1="595.85" y1="667.60" x2="595.85" y2="651.70" stroke="#1d1b1c" stroke-width="1.42" />
<line x1="591.70" y1="651.70" x2="600.00" y2="651.70" stroke="#1d1b1c" stroke-width="1.42" />
<circle cx="129.65" cy="602.50" r="5.35" fill="#fff" stroke="#1d1b1c" stroke-width="1.4"/>
<circle cx="146.30" cy="674.30" r="5.35" fill="#fff" stroke="#1d1b1c" stroke-width="1.4"/>
<circle cx="162.95" cy="720.90" r="5.35" fill="#fff" stroke="#1d1b1c" stroke-width="1.4"/>
<circle cx="179.60" cy="725.00" r="5.35" fill="#fff" stroke="#1d1b1c" stroke-width="1.4"/>
<circle cx="196.25" cy="744.80" r="5.35" fill="#fff" stroke="#1d1b1c" stroke-width="1.4"/>
<circle cx="212.90" cy="724.30" r="5.35" fill="#fff" stroke="#1d1b1c" stroke-width="1.4"/>
<circle cx="246.20" cy="698.40" r="5.35" fill="#fff" stroke="#1d1b1c" stroke-width="1.4"/>
<circle cx="279.50" cy="700.90" r="5.35" fill="#fff" stroke="#1d1b1c" stroke-width="1.4"/>
<circle cx="296.15" cy="700.40" r="5.35" fill="#fff" stroke="#1d1b1c" stroke-width="1.4"/>
<circle cx="312.80" cy="696.60" r="5.35" fill="#fff" stroke="#1d1b1c" stroke-width="1.4"/>
<circle cx="329.45" cy="692.80" r="5.35" fill="#fff" stroke="#1d1b1c" stroke-width="1.4"/>
<circle cx="346.10" cy="688.90" r="5.35" fill="#fff" stroke="#1d1b1c" stroke-width="1.4"/>
<circle cx="362.75" cy="703.00" r="5.35" fill="#fff" stroke="#1d1b1c" stroke-width="1.4"/>
<circle cx="379.40" cy="683.80" r="5.35" fill="#fff" stroke="#1d1b1c" stroke-width="1.4"/>
<circle cx="396.05" cy="669.70" r="5.35" fill="#fff" stroke="#1d1b1c" stroke-width="1.4"/>
<circle cx="412.70" cy="666.60" r="5.35" fill="#fff" stroke="#1d1b1c" stroke-width="1.4"/>
<circle cx="429.35" cy="650.40" r="5.35" fill="#fff" stroke="#1d1b1c" stroke-width="1.4"/>
<circle cx="446.00" cy="653.50" r="5.35" fill="#fff" stroke="#1d1b1c" stroke-width="1.4"/>
<circle cx="462.65" cy="631.70" r="5.35" fill="#fff" stroke="#1d1b1c" stroke-width="1.4"/>
<circle cx="479.30" cy="637.60" r="5.35" fill="#fff" stroke="#1d1b1c" stroke-width="1.4"/>
<circle cx="495.95" cy="641.00" r="5.35" fill="#fff" stroke="#1d1b1c" stroke-width="1.4"/>
<circle cx="512.60" cy="660.70" r="5.35" fill="#fff" stroke="#1d1b1c" stroke-width="1.4"/>
<circle cx="529.25" cy="658.90" r="5.35" fill="#fff" stroke="#1d1b1c" stroke-width="1.4"/>
<circle cx="545.90" cy="653.00" r="5.35" fill="#fff" stroke="#1d1b1c" stroke-width="1.4"/>
<circle cx="562.55" cy="648.60" r="5.35" fill="#fff" stroke="#1d1b1c" stroke-width="1.4"/>
<circle cx="595.85" cy="668.40" r="5.35" fill="#fff" stroke="#1d1b1c" stroke-width="1.4"/>
<circle cx="129.65" cy="583.00" r="6.05" fill="#1d1b1c"/>
<circle cx="146.30" cy="678.10" r="6.05" fill="#1d1b1c"/>
<circle cx="162.95" cy="716.30" r="6.05" fill="#1d1b1c"/>
<circle cx="179.60" cy="724.80" r="6.05" fill="#1d1b1c"/>
<circle cx="196.25" cy="737.60" r="6.05" fill="#1d1b1c"/>
<circle cx="212.90" cy="733.30" r="6.05" fill="#1d1b1c"/>
<circle cx="246.20" cy="695.30" r="6.05" fill="#1d1b1c"/>
<circle cx="279.50" cy="703.80" r="6.05" fill="#1d1b1c"/>
<circle cx="296.15" cy="686.80" r="6.05" fill="#1d1b1c"/>
<circle cx="312.80" cy="705.00" r="6.05" fill="#1d1b1c"/>
<circle cx="329.45" cy="694.80" r="6.05" fill="#1d1b1c"/>
<circle cx="346.10" cy="686.30" r="6.05" fill="#1d1b1c"/>
<circle cx="362.75" cy="681.20" r="6.05" fill="#1d1b1c"/>
<circle cx="379.40" cy="678.60" r="6.05" fill="#1d1b1c"/>
<circle cx="396.05" cy="683.80" r="6.05" fill="#1d1b1c"/>
<circle cx="412.70" cy="670.40" r="6.05" fill="#1d1b1c"/>
<circle cx="429.35" cy="659.40" r="6.05" fill="#1d1b1c"/>
<circle cx="446.00" cy="664.00" r="6.05" fill="#1d1b1c"/>
<circle cx="462.65" cy="647.10" r="6.05" fill="#1d1b1c"/>
<circle cx="479.30" cy="649.20" r="6.05" fill="#1d1b1c"/>
<circle cx="495.95" cy="628.60" r="6.05" fill="#1d1b1c"/>
<circle cx="512.60" cy="647.90" r="6.05" fill="#1d1b1c"/>
<circle cx="529.25" cy="646.10" r="6.05" fill="#1d1b1c"/>
<circle cx="545.90" cy="637.60" r="6.05" fill="#1d1b1c"/>
<circle cx="562.55" cy="632.50" r="6.05" fill="#1d1b1c"/>
<circle cx="595.85" cy="667.60" r="6.05" fill="#1d1b1c"/>
<line x1="263.30" y1="661.20" x2="263.30" y2="690.10" stroke="#1d1b1c" stroke-width="1.40" />
<path d="M260.30,679.60 Q262.40,685.60 263.30,690.60 Q264.20,685.60 266.30,679.60" fill="none" stroke="#1d1b1c" stroke-width="1.4" stroke-linejoin="miter"/>
<text transform="translate(226.80,670.20) rotate(-40.2)" font-size="20" textLength="94.5" lengthAdjust="spacingAndGlyphs">3.0 mg/kg</text>
</g>
<rect x="334.4" y="295.1" width="123.0" height="52.0" fill="#fff" stroke="#1d1b1c" stroke-width="1.45"/>
<line x1="341.80" y1="309.70" x2="388.90" y2="309.70" stroke="#1d1b1c" stroke-width="1.20" />
<line x1="341.80" y1="333.20" x2="388.90" y2="333.20" stroke="#1d1b1c" stroke-width="1.20" />
<circle cx="365.4" cy="309.7" r="5.35" fill="#fff" stroke="#1d1b1c" stroke-width="1.25"/>
<circle cx="365.4" cy="333.2" r="6.05" fill="#1d1b1c"/>
<text class="t" x="399.6" y="317.5" font-size="22">Sal</text>
<text class="t" x="399.6" y="341.1" font-size="22">Meth</text>
<line x1="594.95" y1="447.10" x2="593.49" y2="442.32" stroke="#1d1b1c" stroke-width="2.10" />
<line x1="594.95" y1="447.10" x2="599.05" y2="444.23" stroke="#1d1b1c" stroke-width="2.10" />
<line x1="594.95" y1="447.10" x2="598.94" y2="450.11" stroke="#1d1b1c" stroke-width="2.10" />
<line x1="594.95" y1="447.10" x2="593.32" y2="451.83" stroke="#1d1b1c" stroke-width="2.10" />
<line x1="594.95" y1="447.10" x2="589.95" y2="447.01" stroke="#1d1b1c" stroke-width="2.10" />
<text transform="translate(146.50,788.8) scale(0.865,1)" font-size="19.8" text-anchor="middle">20</text>
<text transform="translate(179.80,788.8) scale(0.865,1)" font-size="19.8" text-anchor="middle">40</text>
<text transform="translate(213.10,788.8) scale(0.865,1)" font-size="19.8" text-anchor="middle">60</text>
<text transform="translate(296.35,788.8) scale(0.865,1)" font-size="19.8" text-anchor="middle">20</text>
<text transform="translate(329.65,788.8) scale(0.865,1)" font-size="19.8" text-anchor="middle">40</text>
<text transform="translate(362.95,788.8) scale(0.865,1)" font-size="19.8" text-anchor="middle">60</text>
<text transform="translate(396.25,788.8) scale(0.865,1)" font-size="19.8" text-anchor="middle">80</text>
<text transform="translate(429.55,788.8) scale(0.865,1)" font-size="19.8" text-anchor="middle">100</text>
<text transform="translate(462.85,788.8) scale(0.865,1)" font-size="19.8" text-anchor="middle">120</text>
<text transform="translate(496.15,788.8) scale(0.865,1)" font-size="19.8" text-anchor="middle">140</text>
<text transform="translate(529.45,788.8) scale(0.865,1)" font-size="19.8" text-anchor="middle">160</text>
<text transform="translate(562.75,788.8) scale(0.865,1)" font-size="19.8" text-anchor="middle">180</text>
<text x="246.15" y="781.7" font-size="21.6" text-anchor="middle">x</text>
<line x1="240.40" y1="767.40" x2="251.40" y2="767.40" stroke="#1d1b1c" stroke-width="1.00" />
<text x="595.05" y="783.8" font-size="21.6" text-anchor="middle">x</text>
<line x1="590.00" y1="768.60" x2="594.60" y2="768.60" stroke="#1d1b1c" stroke-width="1.00" />
<line x1="596.20" y1="768.60" x2="600.50" y2="768.60" stroke="#1d1b1c" stroke-width="1.00" />
<text class="t" x="364.2" y="826.5" font-size="22.1" text-anchor="middle">Time (min)</text>
<text class="t" transform="translate(28.5,544.4) rotate(-90)" font-size="21.5" textLength="289" lengthAdjust="spacingAndGlyphs">Horizontal beam interruptions</text>
</svg></body></html>
